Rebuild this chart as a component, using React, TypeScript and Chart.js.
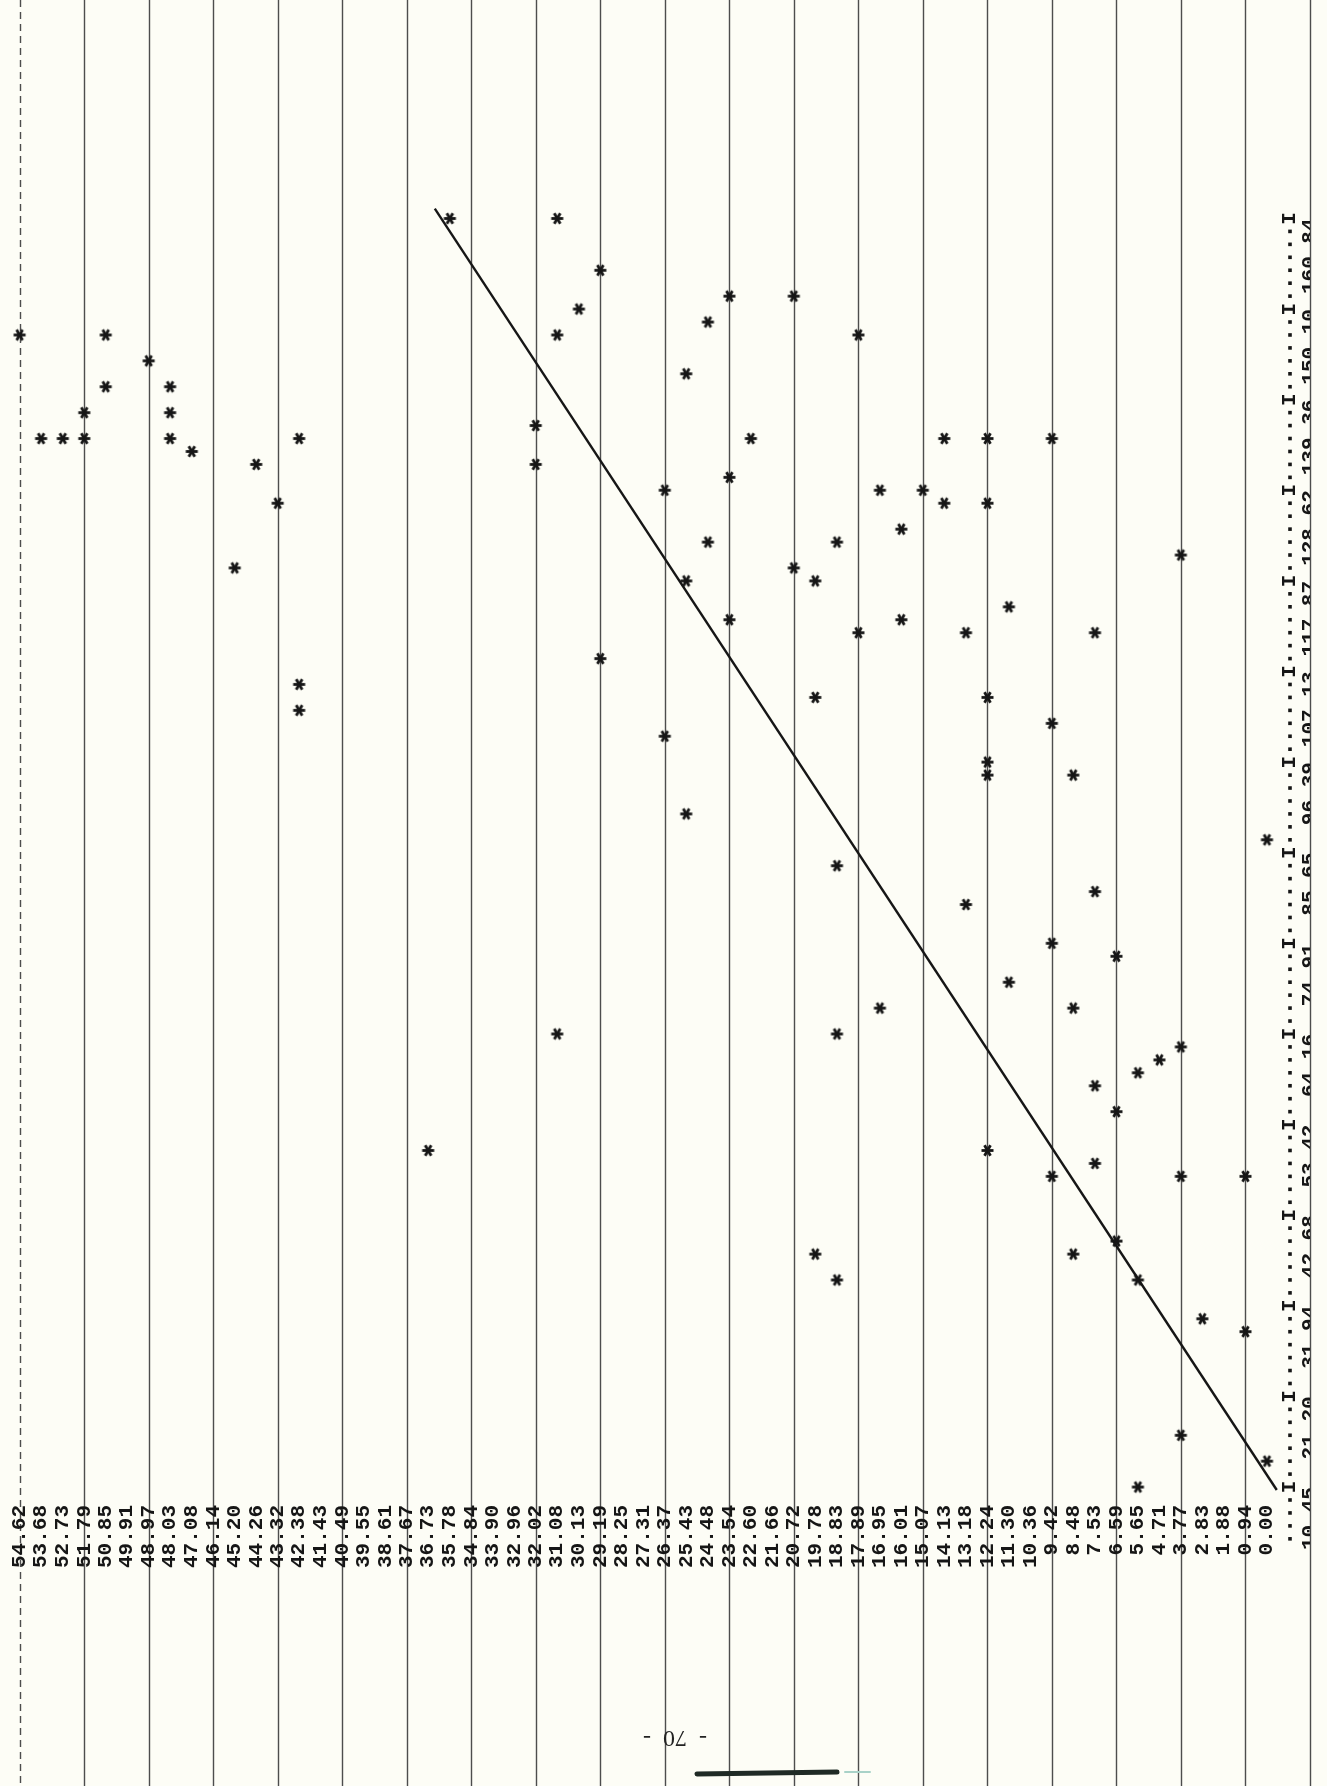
import React, { useEffect, useRef } from "react";
import { Chart, registerables } from "chart.js";

Chart.register(...registerables);

// ---- page geometry (scanned printout, rotated 90 degrees) ----
const CANVAS_W = 1327;
const CANVAS_H = 1786;
const PLOT_RIGHT = 1290; // printer x-axis column
const LABEL_COLUMN = 1310; // centre of the printed x-axis labels
const PLOT_BOTTOM = 1497; // just above the printed y-axis labels

// ---- printed Y axis (runs horizontally in the picture, 54.62 at left) ----
const yAxisLabels = [
  0.0, 0.94, 1.88, 2.83, 3.77, 4.71, 5.65, 6.59, 7.53, 8.48, 9.42, 10.36, 11.3, 12.24, 13.18,
  14.13, 15.07, 16.01, 16.95, 17.89, 18.83, 19.78, 20.72, 21.66, 22.6, 23.54, 24.48, 25.43,
  26.37, 27.31, 28.25, 29.19, 30.13, 31.08, 32.02, 32.96, 33.9, 34.84, 35.78, 36.73, 37.67,
  38.61, 39.55, 40.49, 41.43, 42.38, 43.32, 44.26, 45.2, 46.14, 47.08, 48.03, 48.97, 49.91,
  50.85, 51.79, 52.73, 53.68, 54.62,
];

// ---- printed X axis (runs vertically on the right, 10.45 at bottom) ----
const xAxisLabels = [
  10.45, 21.2, 31.94, 42.68, 53.42, 64.16, 74.91, 85.65, 96.39, 107.13, 117.87, 128.62, 139.36,
  150.1, 160.84,
];

// ruled lines of the paper (every third printed line)
const rulingValues = [
  -1.88, 0.94, 3.77, 6.59, 9.42, 12.24, 15.07, 17.89, 20.72, 23.54, 26.37, 29.19, 32.02, 34.84,
  37.67, 40.49, 43.32, 46.14, 48.97, 51.79, 54.62,
];

// ---- plotted asterisks: printed Y value, printed X value ----
const starPrintedY = [
  54.62, 50.85, 48.97, 50.85, 48.03, 51.79, 48.03, 53.68, 52.73, 51.79, 48.03, 42.38, 47.08,
  44.26, 43.32, 45.2, 29.19, 42.38, 42.38, 35.78, 31.08, 29.19, 30.13, 31.08, 25.43, 32.02,
  32.02, 26.37, 25.43, 23.54, 20.72, 24.48, 17.89, 22.6, 14.13, 12.24, 9.42, 23.54, 16.95,
  15.07, 14.13, 12.24, 16.01, 24.48, 18.83, 3.77, 20.72, 19.78, 11.3, 23.54, 16.01, 17.89,
  13.18, 7.53, 19.78, 12.24, 26.37, 25.43, 31.08, 36.73, 9.42, 12.24, 12.24, 8.48, 0.0, 18.83,
  13.18, 7.53, 9.42, 6.59, 11.3, 8.48, 16.95, 18.83, 3.77, 4.71, 5.65, 7.53, 6.59, 12.24, 7.53,
  9.42, 3.77, 0.94, 19.78, 18.83, 8.48, 6.59, 5.65, 2.83, 0.94, 3.77, 0.0, 5.65,
];
const starPrintedX = [
  147.03, 147.03, 143.96, 140.89, 140.89, 137.82, 137.82, 134.75, 134.75, 134.75, 134.75,
  134.75, 133.22, 131.68, 127.08, 119.41, 108.66, 105.6, 102.53, 160.84, 160.84, 154.7, 150.1,
  147.03, 142.43, 136.29, 131.68, 128.62, 117.87, 151.63, 151.63, 148.56, 147.03, 134.75,
  134.75, 134.75, 134.75, 130.15, 128.62, 128.62, 127.08, 127.08, 124.01, 122.47, 122.47,
  120.94, 119.41, 117.87, 114.8, 113.27, 113.27, 111.73, 111.73, 111.73, 104.06, 104.06, 99.46,
  90.25, 64.16, 50.35, 100.99, 96.39, 94.85, 94.85, 87.18, 84.11, 79.51, 81.04, 74.91, 73.37,
  70.3, 67.23, 67.23, 64.16, 62.63, 61.09, 59.56, 58.02, 54.95, 50.35, 48.82, 47.28, 47.28,
  47.28, 38.07, 35.0, 38.07, 39.61, 35.0, 30.4, 28.87, 16.59, 13.52, 10.45,
];

// ---- hand-drawn fitted line (end points) ----
const fitPrintedY = [36.44, -0.43];
const fitPrintedX = [162.0, 10.1];

// scale ranges chosen so the printed grid lands where the scan has it
const H_MIN = -1.009;
const H_MAX = 55.129;
const V_MIN = 9.27;
const V_MAX = 185.79;

const CHARS_PER_TICK = 7;
const AXIS_CHARS_BELOW = 4;
const PAGE_NUMBER = "-  70  -";
const FONT_FAMILY = "'Liberation Mono', 'DejaVu Sans Mono', monospace";
const FONT_SIZE = 21;
const INK = "#161616";
const PAPER = "#fdfdf6";

function makeStar(): HTMLCanvasElement {
  const c = document.createElement("canvas");
  c.width = 15;
  c.height = 15;
  const g = c.getContext("2d")!;
  g.strokeStyle = INK;
  g.lineWidth = 2.8;
  g.translate(7.5, 7.5);
  for (let a = 0; a < 3; a++) {
    const t = (a * Math.PI) / 3;
    g.beginPath();
    g.moveTo(-6 * Math.cos(t), -6 * Math.sin(t));
    g.lineTo(6 * Math.cos(t), 6 * Math.sin(t));
    g.stroke();
  }
  return c;
}

const paperPlugin = {
  id: "paper",
  beforeDraw(chart: any) {
    const ctx: CanvasRenderingContext2D = chart.ctx;
    const xs = chart.scales.x;
    const ys = chart.scales.y;
    ctx.save();
    ctx.fillStyle = PAPER;
    ctx.fillRect(0, 0, chart.width, chart.height);

    // ruled paper lines
    ctx.strokeStyle = "#4d4d4d";
    ctx.lineWidth = 1.4;
    const leftMost = yAxisLabels[yAxisLabels.length - 1];
    rulingValues.forEach((v) => {
      const px = Math.round(xs.getPixelForValue(v)) + 0.5;
      ctx.setLineDash(v === leftMost ? [7, 5] : []);
      ctx.beginPath();
      ctx.moveTo(px, 0);
      ctx.lineTo(px, chart.height);
      ctx.stroke();
    });
    ctx.setLineDash([]);

    // printer-style axis: "....I......I......I"
    const first = xAxisLabels[0];
    const last = xAxisLabels[xAxisLabels.length - 1];
    const charStep = (last - first) / (xAxisLabels.length - 1) / CHARS_PER_TICK;
    const total = (xAxisLabels.length - 1) * CHARS_PER_TICK;
    const ax = chart.chartArea.right;
    ctx.fillStyle = INK;
    ctx.font = `bold ${FONT_SIZE}px ${FONT_FAMILY}`;
    ctx.textAlign = "center";
    ctx.textBaseline = "middle";
    for (let k = -AXIS_CHARS_BELOW; k <= total; k++) {
      const py = ys.getPixelForValue(first + k * charStep);
      if (k >= 0 && k % CHARS_PER_TICK === 0) {
        ctx.save();
        ctx.translate(ax, py);
        ctx.rotate(-Math.PI / 2);
        ctx.fillText("I", 0, 0);
        ctx.restore();
      } else {
        ctx.fillRect(ax - 1.8, py - 1.8, 3.6, 3.6);
      }
    }

    // page number (upside down in the scan)
    ctx.save();
    ctx.translate(675, 1737);
    ctx.rotate(Math.PI);
    ctx.font = "24px 'Liberation Serif', serif";
    ctx.fillStyle = "#222";
    ctx.fillText(PAGE_NUMBER, 0, 0);
    ctx.restore();

    // pen smear at the foot of the page
    ctx.strokeStyle = "#1f2a25";
    ctx.lineWidth = 5;
    ctx.lineCap = "round";
    ctx.beginPath();
    ctx.moveTo(697, 1774);
    ctx.lineTo(837, 1772);
    ctx.stroke();
    ctx.strokeStyle = "#a9d2c8";
    ctx.lineWidth = 2;
    ctx.beginPath();
    ctx.moveTo(845, 1772);
    ctx.lineTo(870, 1772);
    ctx.stroke();
    ctx.restore();
  },
};

export default function App() {
  const ref = useRef<HTMLCanvasElement | null>(null);

  useEffect(() => {
    const canvas = ref.current;
    if (!canvas) return;

    const stars = starPrintedY.map((v, i) => ({ x: v, y: starPrintedX[i] }));
    const fit = fitPrintedY.map((v, i) => ({ x: v, y: fitPrintedX[i] }));

    const chart = new Chart(canvas, {
      type: "scatter",
      data: {
        datasets: [
          {
            type: "line",
            data: fit,
            borderColor: INK,
            borderWidth: 2.4,
            pointRadius: 0,
            fill: false,
            tension: 0,
            order: 2,
          } as any,
          {
            type: "scatter",
            data: stars,
            pointStyle: makeStar() as any,
            pointRadius: 7,
            order: 1,
          } as any,
        ],
      },
      options: {
        responsive: false,
        animation: false,
        devicePixelRatio: 1,
        events: [],
        layout: { padding: { left: 0, top: 0, bottom: 0, right: CANVAS_W - LABEL_COLUMN } },
        plugins: {
          legend: { display: false },
          tooltip: { enabled: false },
          title: { display: false },
        },
        scales: {
          x: {
            type: "linear",
            position: "bottom",
            reverse: true,
            min: H_MIN,
            max: H_MAX,
            grid: { display: false, drawTicks: false },
            border: { display: false },
            afterBuildTicks: (s: any) => {
              s.ticks = yAxisLabels.map((v) => ({ value: v }));
            },
            afterFit: (s: any) => {
              s.height = CANVAS_H - PLOT_BOTTOM;
              s.paddingLeft = 0;
              s.paddingRight = 0;
              s.paddingTop = 0;
              s.paddingBottom = 0;
            },
            ticks: {
              autoSkip: false,
              minRotation: 90,
              maxRotation: 90,
              padding: 8,
              color: INK,
              font: { family: FONT_FAMILY, size: FONT_SIZE, weight: "bold" },
              callback: (v: any) => Number(v).toFixed(2),
            },
          },
          y: {
            type: "linear",
            position: "right",
            min: V_MIN,
            max: V_MAX,
            grid: { display: false, drawTicks: false },
            border: { display: false },
            afterBuildTicks: (s: any) => {
              s.ticks = xAxisLabels.map((v) => ({ value: v }));
            },
            afterFit: (s: any) => {
              s.width = LABEL_COLUMN - PLOT_RIGHT;
              s.paddingLeft = 0;
              s.paddingRight = 0;
              s.paddingTop = 0;
              s.paddingBottom = 0;
            },
            ticks: {
              autoSkip: false,
              minRotation: 90,
              maxRotation: 90,
              crossAlign: "far",
              padding: 0,
              color: INK,
              font: { family: FONT_FAMILY, size: FONT_SIZE, weight: "bold" },
              callback: (v: any) => Number(v).toFixed(2),
            },
          },
        },
      } as any,
      plugins: [paperPlugin],
    });
    return () => chart.destroy();
  }, []);

  return (
    <div style={{ position: "absolute", left: 0, top: 0, width: CANVAS_W, height: CANVAS_H }}>
      <canvas
        ref={ref}
        width={CANVAS_W}
        height={CANVAS_H}
        style={{ display: "block", width: CANVAS_W, height: CANVAS_H }}
      />
    </div>
  );
}
